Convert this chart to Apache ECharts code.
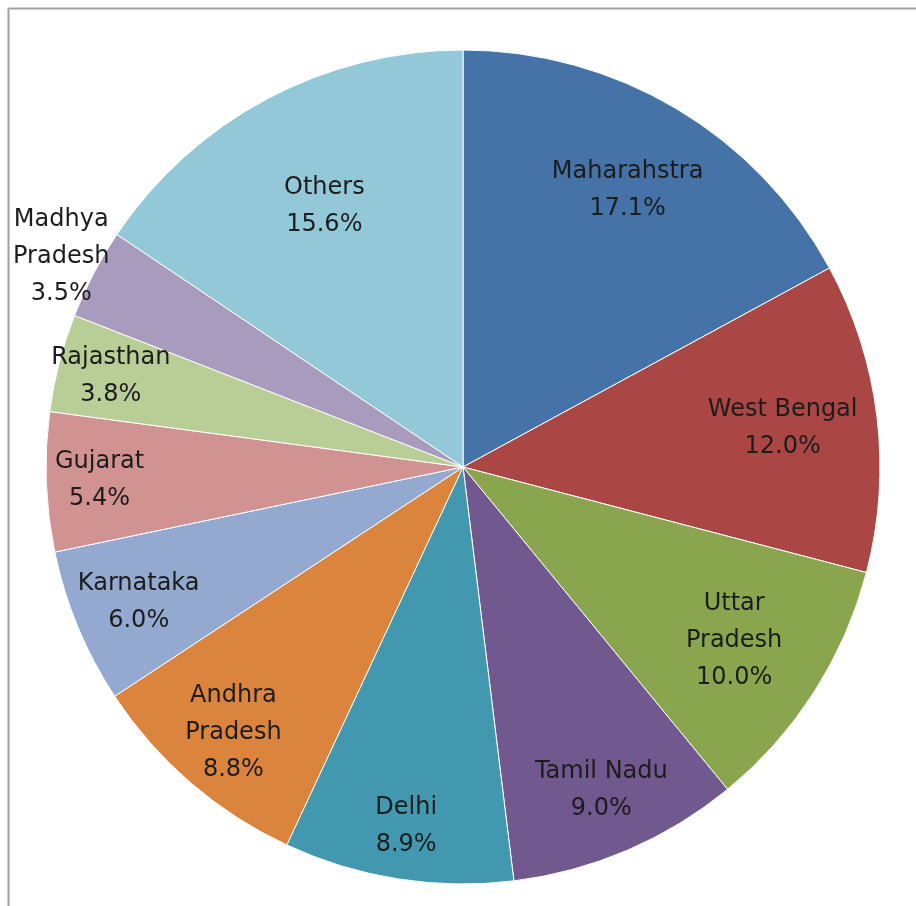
<!DOCTYPE html>
<html>
<head>
<meta charset="utf-8">
<script src="https://cdn.jsdelivr.net/npm/echarts@6/dist/echarts.min.js"></script>
<style>
html,body{margin:0;padding:0;background:#fff;}
#chart{width:916px;height:906px;}
</style>
</head>
<body>
<div id="chart"></div>
<script>
// ---- data ----
const categories = ['Maharahstra','West Bengal','Uttar Pradesh','Tamil Nadu','Delhi','Andhra Pradesh','Karnataka','Gujarat','Rajasthan','Madhya Pradesh','Others'];
const labelTexts = ['Maharahstra','West Bengal','Uttar\nPradesh','Tamil Nadu','Delhi','Andhra\nPradesh','Karnataka','Gujarat','Rajasthan','Madhya\nPradesh','Others'];
const shares = [17.1, 12.0, 10.0, 9.0, 8.9, 8.8, 6.0, 5.4, 3.8, 3.5, 15.6];
const colors = ['#4572A7','#AA4643','#89A54E','#71588F','#4198AF','#DB843D','#93A9CF','#D19392','#B9CD96','#A99BBD','#93C8D8'];

// label groups (which ring the label sits on)
const labelRings = [
  { frac: 0.70, names: ['Others'] },
  { frac: 0.765, names: ['Maharahstra','West Bengal','Uttar Pradesh'] },
  { frac: 0.835, names: ['Tamil Nadu','Andhra Pradesh','Karnataka'] },
  { frac: 0.865, names: ['Delhi','Gujarat','Rajasthan'] },
  { frac: 1.08, names: ['Madhya Pradesh'] }
];

const R = 417;
const CENTER = [463, 467];

const chart = echarts.init(document.getElementById('chart'));

function labelSeries(frac, names) {
  return {
    type: 'pie',
    center: CENTER,
    radius: [(frac - 0.08) * R, (frac + 0.08) * R],
    startAngle: 90,
    clockwise: true,
    silent: true,
    avoidLabelOverlap: false,
    itemStyle: { color: 'rgba(0,0,0,0)', borderWidth: 0 },
    emphasis: { disabled: true },
    labelLine: { show: false },
    label: {
      show: true,
      position: 'inside',
      color: '#1c1c1c',
      fontFamily: 'DejaVu Sans',
      fontSize: 24,
      lineHeight: 37,
      align: 'center',
      formatter: p => labelTexts[p.dataIndex] + '\n' + p.value.toFixed(1) + '%'
    },
    data: categories.map((c, i) => ({
      name: c,
      value: shares[i],
      label: { show: names.indexOf(c) >= 0 }
    }))
  };
}

chart.setOption({
  animation: false,
  backgroundColor: '#fff',
  graphic: [
    { type: 'line', shape: { x1: 8.5, y1: 8.5, x2: 916, y2: 8.5 }, style: { stroke: '#a0a0a0', lineWidth: 2 } },
    { type: 'line', shape: { x1: 8.5, y1: 8.5, x2: 8.5, y2: 906 }, style: { stroke: '#a0a0a0', lineWidth: 2 } }
  ],
  series: [
    {
      type: 'pie',
      center: CENTER,
      radius: [0, R],
      startAngle: 90,
      clockwise: true,
      label: { show: false },
      labelLine: { show: false },
      itemStyle: { borderColor: '#ffffff', borderWidth: 1 },
      data: categories.map((c, i) => ({ name: c, value: shares[i], itemStyle: { color: colors[i] } }))
    }
  ].concat(labelRings.map(g => labelSeries(g.frac, g.names)))
});
</script>
</body>
</html>
